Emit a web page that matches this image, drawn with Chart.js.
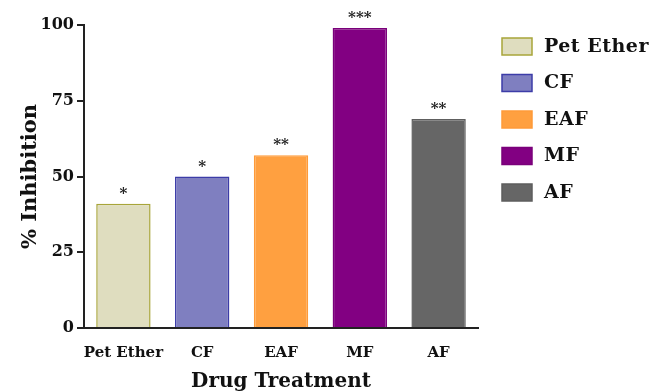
<!DOCTYPE html>
<html>
<head>
<meta charset="utf-8">
<script src="https://cdn.jsdelivr.net/npm/chart.js@4.4.1/dist/chart.umd.min.js"></script>
<style>
  html, body { margin: 0; padding: 0; background: #ffffff; }
  #wrap { position: relative; width: 659px; height: 391px; }
</style>
</head>
<body>
<div id="wrap"><canvas id="chart" width="659" height="391"></canvas></div>
<script>
// Extract fractions and their inhibition values
const categories = ['Pet Ether', 'CF', 'EAF', 'MF', 'AF'];
const inhibition = [41, 50, 57, 99, 69];
const significance = ['*', '*', '**', '***', '**'];
const yTicks = [0, 25, 50, 75, 100];

const fillColors = ['#dfddbf', '#7f7fc0', '#ffa040', '#820082', '#666666'];
const edgeColors = ['#a8a53a', '#3c3ca8', '#ff9a38', '#7a007a', '#5e5e5e'];

const serif = '"DejaVu Serif", "Liberation Serif", serif';

// Significance stars above each bar plus the legend on the right
const annotate = {
  id: 'annotate',
  afterDatasetsDraw(chart) {
    const ctx = chart.ctx;
    const meta = chart.getDatasetMeta(0);
    ctx.save();
    ctx.fillStyle = '#222';
    ctx.font = 'bold 15px ' + serif;
    ctx.textAlign = 'center';
    ctx.textBaseline = 'alphabetic';
    meta.data.forEach((bar, i) => {
      ctx.fillText(significance[i], bar.x, bar.y - 6);
    });

    // legend
    const x0 = 502, y0 = 38, step = 36.5;
    categories.forEach((name, i) => {
      const y = y0 + i * step;
      ctx.fillStyle = fillColors[i];
      ctx.strokeStyle = edgeColors[i];
      ctx.lineWidth = 1.5;
      ctx.fillRect(x0, y, 30, 17);
      ctx.strokeRect(x0, y, 30, 17);
      ctx.fillStyle = '#111';
      ctx.font = 'bold 19px ' + serif;
      ctx.letterSpacing = '0.5px';
      ctx.textAlign = 'left';
      ctx.textBaseline = 'middle';
      ctx.fillText(name, 544, y + 9);
    });
    ctx.restore();
  }
};

new Chart(document.getElementById('chart'), {
  type: 'bar',
  data: {
    labels: categories,
    datasets: [{
      data: inhibition,
      backgroundColor: fillColors,
      borderColor: edgeColors,
      borderWidth: 1.5,
      categoryPercentage: 0.69,
      barPercentage: 1.0
    }]
  },
  options: {
    responsive: false,
    animation: false,
    layout: { padding: { top: 25, right: 181, left: 0, bottom: 0 } },
    plugins: { legend: { display: false }, tooltip: { enabled: false } },
    scales: {
      x: {
        grid: { display: false, drawTicks: false },
        border: { display: true, color: '#222', width: 2 },
        ticks: {
          color: '#111',
          padding: 16,
          maxRotation: 0,
          minRotation: 0,
          autoSkip: false,
          font: { family: serif, weight: 'bold', size: 15 }
        },
        title: {
          display: true,
          text: 'Drug Treatment',
          color: '#111',
          padding: { top: 0, bottom: -3 },
          font: { family: serif, weight: 'bold', size: 20 }
        },
        afterFit(scale) { scale.height = 63; }
      },
      y: {
        min: 0,
        max: 100,
        afterBuildTicks(scale) { scale.ticks = yTicks.map(v => ({ value: v })); },
        grid: { drawOnChartArea: false, drawTicks: true, tickLength: 7, color: '#222', lineWidth: 2 },
        border: { display: true, color: '#222', width: 2 },
        ticks: {
          color: '#111',
          padding: 3,
          font: { family: serif, weight: 'bold', size: 16 }
        },
        title: {
          display: true,
          text: '% Inhibition',
          color: '#111',
          padding: { top: 18, bottom: 0 },
          font: { family: serif, weight: 'bold', size: 21 }
        },
        afterFit(scale) { scale.width = 84; }
      }
    }
  },
  plugins: [annotate]
});
</script>
</body>
</html>
